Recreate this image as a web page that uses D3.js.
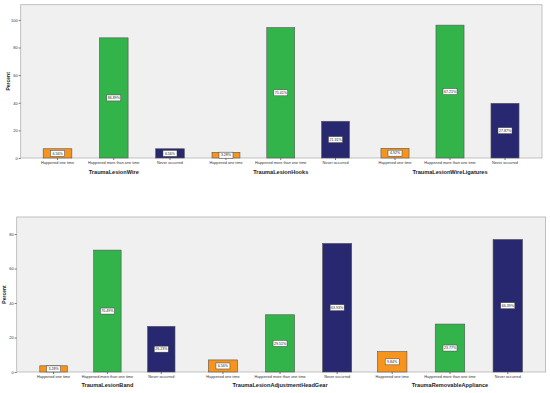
<!DOCTYPE html>
<html>
<head>
<meta charset="utf-8">
<script src="https://cdn.jsdelivr.net/npm/d3@7"></script>
<style>
  body { margin:0; background:#fff; }
  svg { display:block; font-family:"Liberation Sans", Arial, sans-serif; }
</style>
</head>
<body>
<script>

var categories = ["Happened one time","Happened more than one time","Never occurred"];

var topTitles = ["TraumaLesionWire","TraumaLesionHooks","TraumaLesionWireLigatures"];
var topValues = [[6.7,87,6.7],[4.1,94.4,26.6],[7.0,96.2,39.6]];
var topLabels = [["6.56%","86.89%","6.56%"],["3.28%","75.41%","21.31%"],["4.92%","67.21%","27.87%"]];
var topTicks = [0,20,40,60,80,100];

var bottomTitles = ["TraumaLesionBand","TraumaLesionAdjustmentHeadGear","TraumaRemovableAppliance"];
var bottomValues = [[3.6,70.7,26.5],[7.0,33.2,74.6],[11.8,27.8,76.9]];
var bottomLabels = [["3.28%","70.49%","26.23%"],["6.56%","29.51%","63.93%"],["9.84%","23.77%","66.39%"]];
var bottomTicks = [0,20,40,60,80];

var colors = ["#f7941d","#33b44a","#27286f"];

var svg = d3.select("body")
    .append("svg")
    .attr("width",550)
    .attr("height",393);

var drawRow = function(opt)
{
  var yScale = d3.scaleLinear()
                .domain([0,opt.yMax])
                .range([opt.bottom,opt.top]);

  // plot background
  svg.append("rect")
     .attr("x",opt.left)
     .attr("y",opt.top)
     .attr("width",opt.right-opt.left)
     .attr("height",opt.bottom-opt.top)
     .attr("fill","#f0f0f0")
     .attr("stroke","#b3b3b3")
     .attr("stroke-width",0.8);

  var yAxis = svg.append("g")
     .attr("transform","translate("+opt.left+",0)")
     .call(d3.axisLeft(yScale).tickValues(opt.ticks).tickSize(2).tickPadding(1));
  yAxis.select(".domain").remove();
  yAxis.selectAll("line").attr("stroke","#777");
  yAxis.selectAll("text").attr("font-size","4px").attr("fill","#333");

  svg.append("text")
     .attr("transform","translate("+(opt.left-11)+","+((opt.top+opt.bottom)/2)+") rotate(-90)")
     .attr("text-anchor","middle")
     .attr("font-size","5px")
     .attr("font-weight","bold")
     .attr("fill","#222")
     .text("Percent");

  opt.values.forEach(function(vals,p)
  {
    var xScale = d3.scaleBand()
                  .domain(categories)
                  .range(opt.panels[p])
                  .paddingInner(0.49)
                  .paddingOuter(0.245);

    var xAxis = svg.append("g")
       .attr("transform","translate(0,"+opt.bottom+")")
       .call(d3.axisBottom(xScale).tickSize(2).tickPadding(1));
    xAxis.select(".domain").remove();
    xAxis.selectAll("line").attr("stroke","#777");
    xAxis.selectAll("text").attr("font-size","3.8px").attr("fill","#333");

    var bars = svg.append("g").selectAll("g")
       .data(vals)
       .enter()
       .append("g");

    bars.append("rect")
       .attr("x",function(d,i){return xScale(categories[i]);})
       .attr("y",function(d){return yScale(d);})
       .attr("width",xScale.bandwidth())
       .attr("height",function(d){return opt.bottom-yScale(d);})
       .attr("fill",function(d,i){return colors[i];})
       .attr("stroke","#555")
       .attr("stroke-width",0.6);

    bars.append("rect")
       .attr("x",function(d,i){return xScale(categories[i])+xScale.bandwidth()/2-7;})
       .attr("y",function(d){return (yScale(d)+opt.bottom)/2-3;})
       .attr("width",14)
       .attr("height",6)
       .attr("fill","#fff")
       .attr("stroke","#444")
       .attr("stroke-width",0.5);

    bars.append("text")
       .attr("x",function(d,i){return xScale(categories[i])+xScale.bandwidth()/2;})
       .attr("y",function(d){return (yScale(d)+opt.bottom)/2+1.3;})
       .attr("text-anchor","middle")
       .attr("font-size","3.6px")
       .attr("fill","#222")
       .text(function(d,i){return opt.labels[p][i];});

    svg.append("text")
       .attr("x",(opt.panels[p][0]+opt.panels[p][1])/2)
       .attr("y",opt.titleY)
       .attr("text-anchor","middle")
       .attr("font-size","5.6px")
       .attr("font-weight","bold")
       .attr("fill","#222")
       .text(opt.titles[p]);
  });
}

drawRow({
  top:4.7, bottom:158, left:20.7, right:542, yMax:111,
  ticks:topTicks, values:topValues, labels:topLabels, titles:topTitles,
  panels:[[29.4,198.1],[198.6,362.9],[367.5,532.5]],
  titleY:173.5
});

drawRow({
  top:217, bottom:372, left:16.7, right:545.6, yMax:89.9,
  ticks:bottomTicks, values:bottomValues, labels:bottomLabels, titles:bottomTitles,
  panels:[[26.6,188.2],[194.4,365.7],[363.3,536.7]],
  titleY:387
});

</script>
</body>
</html>
